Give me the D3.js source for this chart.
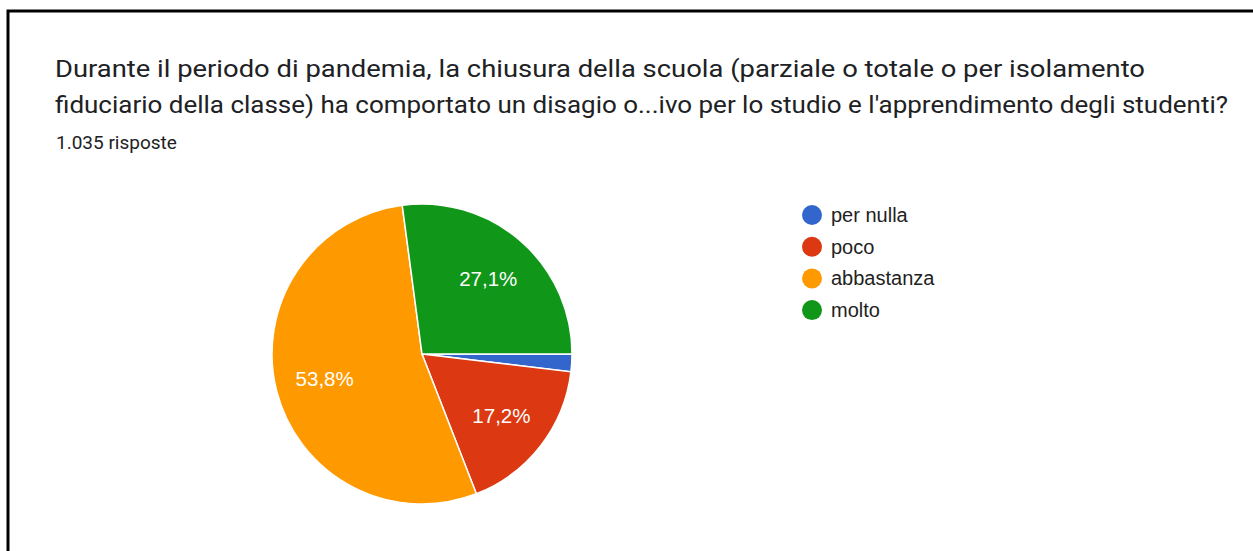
<!DOCTYPE html>
<html>
<head>
<meta charset="utf-8">
<script src="https://cdn.jsdelivr.net/npm/d3@7"></script>
<style>
  html, body { margin: 0; padding: 0; background: #fff; }
  svg { display: block; }
  .head { font-family: Roboto, "Open Sans", Arial, sans-serif; }
  .chart-text { font-family: "Liberation Sans", Arial, sans-serif; }
</style>
</head>
<body>
<svg id="chart" width="1253" height="551"></svg>
<script>
// Survey answers and their share of the 1.035 responses
const categories = ["per nulla", "poco", "abbastanza", "molto"];
const shares = [1.9, 17.2, 53.8, 27.1];
const percentLabels = ["1,9%", "17,2%", "53,8%", "27,1%"];
const colors = ["#3366cc", "#dc3912", "#ff9900", "#109618"];
const titleLines = [
  "Durante il periodo di pandemia, la chiusura della scuola (parziale o totale o per isolamento",
  "fiduciario della classe) ha comportato un disagio o...ivo per lo studio e l'apprendimento degli studenti?"
];
const titleWidths = [1090, 1173];
const subtitle = "1.035 risposte";

const svg = d3.select("#chart");

// Card frame
svg.append("rect")
  .attr("x", 8).attr("y", 11)
  .attr("width", 1260).attr("height", 560)
  .attr("fill", "#fff")
  .attr("stroke", "#000")
  .attr("stroke-width", 3);

// Question title
svg.selectAll("text.title")
  .data(titleLines)
  .join("text")
  .attr("class", "title head")
  .attr("x", 55)
  .attr("y", (d, i) => 77 + i * 36)
  .attr("fill", "#202124")
  .attr("font-size", 24.5)
  .attr("textLength", (d, i) => titleWidths[i])
  .attr("lengthAdjust", "spacingAndGlyphs")
  .text(d => d);

svg.append("text")
  .attr("class", "head")
  .attr("x", 56).attr("y", 149)
  .attr("fill", "#202124")
  .attr("font-size", 19)
  .text(subtitle);

// Pie
const cx = 422, cy = 354, radius = 150;
const data = categories.map((c, i) => ({ name: c, value: shares[i], label: percentLabels[i], color: colors[i] }));

const pie = d3.pie()
  .value(d => d.value)
  .sort(null)
  .startAngle(Math.PI / 2)
  .endAngle(Math.PI / 2 + 2 * Math.PI);

const arc = d3.arc().innerRadius(0).outerRadius(radius);
const labelArc = d3.arc().innerRadius(radius * 0.67).outerRadius(radius * 0.67);

const g = svg.append("g").attr("transform", `translate(${cx},${cy})`);
const arcs = pie(data);

g.selectAll("path")
  .data(arcs)
  .join("path")
  .attr("d", arc)
  .attr("fill", d => d.data.color)
  .attr("stroke", "#fff")
  .attr("stroke-width", 1.5);

// Percentage labels on slices large enough to hold them
g.selectAll("text.pct")
  .data(arcs.filter(d => d.data.value >= 5))
  .join("text")
  .attr("class", "pct chart-text")
  .attr("transform", d => `translate(${labelArc.centroid(d)})`)
  .attr("text-anchor", "middle")
  .attr("dy", "0.35em")
  .attr("fill", "#fff")
  .attr("font-size", 20.5)
  .text(d => d.data.label);

// Legend
const legend = svg.append("g").attr("transform", "translate(812,215)");
const items = legend.selectAll("g")
  .data(data)
  .join("g")
  .attr("transform", (d, i) => `translate(0,${i * 31.7})`);

items.append("circle")
  .attr("r", 10)
  .attr("fill", d => d.color);

items.append("text")
  .attr("class", "chart-text")
  .attr("x", 19)
  .attr("dy", "0.35em")
  .attr("fill", "#222")
  .attr("font-size", 20)
  .text(d => d.name);
</script>
</body>
</html>
